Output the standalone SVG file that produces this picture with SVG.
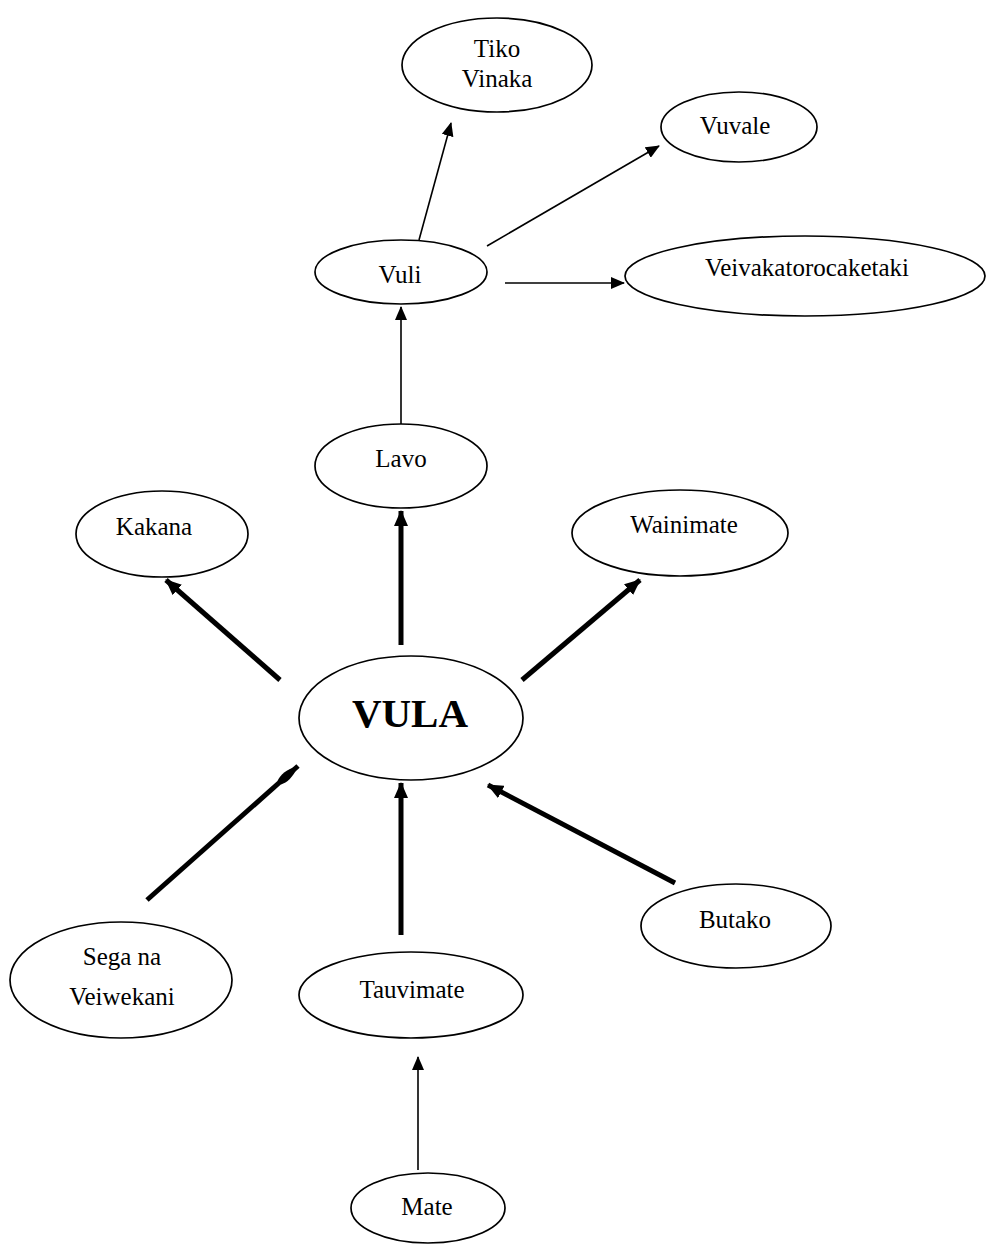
<svg xmlns="http://www.w3.org/2000/svg" width="986" height="1249" viewBox="0 0 986 1249">
<style>
.n ellipse{fill:#fff;stroke:#000;stroke-width:1.7}
.n text{font-family:"Liberation Serif","Times New Roman",serif;font-size:25px;fill:#000;text-anchor:middle}
.thin{stroke:#000;stroke-width:1.6;fill:none;marker-end:url(#ah)}
.thick{stroke:#000;stroke-width:5;fill:none;marker-end:url(#ahb)}
</style>
<defs>
<marker id="ah" markerUnits="userSpaceOnUse" markerWidth="14" markerHeight="12" refX="13" refY="6" orient="auto"><path d="M0,0 L14,6 L0,12 z" fill="#000"/></marker>
<marker id="ahb" markerUnits="userSpaceOnUse" markerWidth="16" markerHeight="14" refX="15" refY="7" orient="auto"><path d="M0,0 L16,7 L0,14 z" fill="#000"/></marker>
<marker id="spear" markerUnits="userSpaceOnUse" markerWidth="26" markerHeight="14" refX="25" refY="7" orient="auto"><path d="M0,4.5 C6,2 13,1.5 25,7 C13,12.5 6,12 0,9.5 z" fill="#000"/></marker>
</defs>
<rect width="986" height="1249" fill="#fff"/>
<g id="connectors">
<line class="thin" x1="419" y1="240" x2="451" y2="123"/>
<line class="thin" x1="487" y1="246" x2="659" y2="146"/>
<line class="thin" x1="505" y1="283" x2="624" y2="283"/>
<line class="thin" x1="401" y1="425" x2="401" y2="307"/>
<line class="thin" x1="418" y1="1170" x2="418" y2="1057"/>
<line class="thick" x1="401" y1="645" x2="401" y2="511"/>
<line class="thick" x1="280" y1="680" x2="166" y2="580"/>
<line class="thick" x1="522" y1="680" x2="640" y2="580"/>
<line class="thick" x1="147" y1="900" x2="298" y2="766" style="marker-end:url(#spear)"/>
<line class="thick" x1="401" y1="935" x2="401" y2="783"/>
<line class="thick" x1="675" y1="883" x2="488" y2="785"/>
</g>
<g id="tiko" class="n"><ellipse cx="497" cy="65" rx="95" ry="47"/><text x="497" y="57">Tiko</text><text x="497" y="87">Vinaka</text></g>
<g id="vuvale" class="n"><ellipse cx="739" cy="127" rx="78" ry="35"/><text x="735" y="134">Vuvale</text></g>
<g id="veivaka" class="n"><ellipse cx="805" cy="276" rx="180" ry="40"/><text x="807" y="276">Veivakatorocaketaki</text></g>
<g id="vuli" class="n"><ellipse cx="401" cy="272" rx="86" ry="32"/><text x="400" y="283">Vuli</text></g>
<g id="lavo" class="n"><ellipse cx="401" cy="466" rx="86" ry="42"/><text x="401" y="467">Lavo</text></g>
<g id="kakana" class="n"><ellipse cx="162" cy="534" rx="86" ry="43"/><text x="154" y="535">Kakana</text></g>
<g id="wainimate" class="n"><ellipse cx="680" cy="533" rx="108" ry="43"/><text x="684" y="533">Wainimate</text></g>
<g id="vula" class="n"><ellipse cx="411" cy="718" rx="112" ry="62"/><text x="410" y="727" style="font-size:41px;font-weight:bold">VULA</text></g>
<g id="sega" class="n"><ellipse cx="121" cy="980" rx="111" ry="58"/><text x="122" y="965">Sega na</text><text x="122" y="1005">Veiwekani</text></g>
<g id="tauvimate" class="n"><ellipse cx="411" cy="995" rx="112" ry="43"/><text x="412" y="998">Tauvimate</text></g>
<g id="butako" class="n"><ellipse cx="736" cy="926" rx="95" ry="42"/><text x="735" y="928">Butako</text></g>
<g id="mate" class="n"><ellipse cx="428" cy="1208" rx="77" ry="35"/><text x="427" y="1215">Mate</text></g>
</svg>
